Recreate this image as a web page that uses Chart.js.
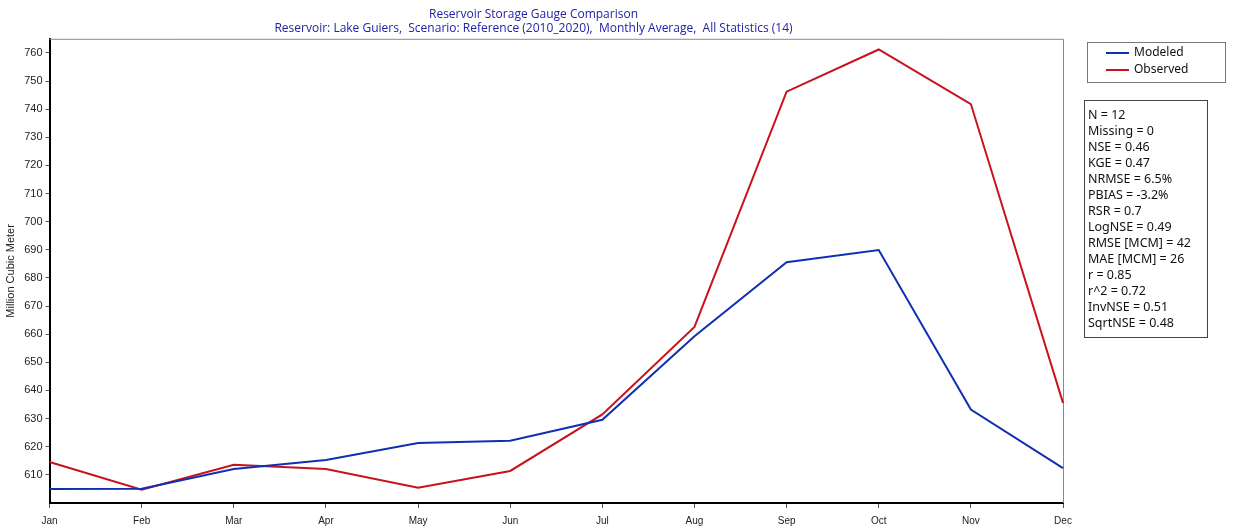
<!DOCTYPE html>
<html>
<head>
<meta charset="utf-8">
<script src="https://cdn.jsdelivr.net/npm/chart.js@4"></script>
<style>
  html, body { margin: 0; padding: 0; background: #fff; }
  #wrap { width: 1234px; height: 526px; position: relative; }
</style>
</head>
<body>
<div id="wrap"><canvas id="c" width="1234" height="526"></canvas></div>
<script>
const months = ["Jan","Feb","Mar","Apr","May","Jun","Jul","Aug","Sep","Oct","Nov","Dec"];
const modeled = [605.0, 605.1, 612.1, 615.3, 621.3, 622.1, 629.6, 659.3, 685.6, 689.9, 633.2, 612.4];
const observed = [614.6, 604.7, 613.6, 612.1, 605.4, 611.4, 631.5, 662.6, 746.2, 761.2, 741.8, 635.6];
const yTickValues = [610,620,630,640,650,660,670,680,690,700,710,720,730,740,750,760];
const statsLines = ["N = 12","Missing = 0","NSE = 0.46","KGE = 0.47","NRMSE = 6.5%","PBIAS = -3.2%","RSR = 0.7","LogNSE = 0.49","RMSE [MCM] = 42","MAE [MCM] = 26","r = 0.85","r^2 = 0.72","InvNSE = 0.51","SqrtNSE = 0.48"];
const titleText = "Reservoir Storage Gauge Comparison";
const subtitleText = "Reservoir: Lake Guiers,  Scenario: Reference (2010_2020),  Monthly Average,  All Statistics (14)";
const blue = "#1030b4";
const red = "#c8121c";

const boxPlugin = {
  id: 'boxes',
  beforeDatasetsDraw(chart) {
    const {ctx, chartArea: a} = chart;
    ctx.save();
    ctx.strokeStyle = '#8a8a8a';
    ctx.lineWidth = 1;
    ctx.beginPath();
    ctx.moveTo(a.left, a.top + 0.5);
    ctx.lineTo(a.right + 0.5, a.top + 0.5);
    ctx.lineTo(a.right + 0.5, a.bottom);
    ctx.stroke();
    ctx.restore();
  },
  afterDraw(chart) {
    const ctx = chart.ctx;
    ctx.save();
    ctx.strokeStyle = '#777';
    ctx.lineWidth = 1;
    ctx.strokeRect(1087.5, 42.5, 138, 40);
    ctx.font = '12px "Noto Sans", "Open Sans", sans-serif';
    ctx.textBaseline = 'middle';
    ctx.textAlign = 'left';
    const leg = [["Modeled", blue, 53], ["Observed", red, 70]];
    leg.forEach(([t, c, y]) => {
      ctx.strokeStyle = c; ctx.lineWidth = 2;
      ctx.beginPath(); ctx.moveTo(1106, y); ctx.lineTo(1129, y); ctx.stroke();
      ctx.fillStyle = '#111';
      ctx.fillText(t, 1134, y);
    });
    ctx.strokeStyle = '#444';
    ctx.lineWidth = 1;
    ctx.strokeRect(1084.5, 100.5, 123, 237);
    ctx.fillStyle = '#111';
    ctx.font = '12.5px "Noto Sans", "Open Sans", sans-serif';
    statsLines.forEach((t, i) => {
      ctx.fillText(t, 1088, 115 + i * 16);
    });
    ctx.restore();
  }
};

new Chart(document.getElementById('c'), {
  type: 'line',
  data: {
    labels: months,
    datasets: [
      { label: 'Modeled', data: modeled, borderColor: blue, backgroundColor: blue, borderWidth: 2, pointRadius: 0, tension: 0 },
      { label: 'Observed', data: observed, borderColor: red, backgroundColor: red, borderWidth: 2, pointRadius: 0, tension: 0 }
    ]
  },
  options: {
    responsive: false,
    animation: false,
    devicePixelRatio: 1,
    layout: { padding: { left: 4, right: 171, top: 0, bottom: -8 } },
    plugins: {
      legend: { display: false },
      tooltip: { enabled: false },
      title: {
        display: true, text: titleText, color: '#2222a8',
        font: { family: '"Open Sans", "Noto Sans", sans-serif', size: 12, weight: 'normal' },
        padding: { top: 7, bottom: 0 }
      },
      subtitle: {
        display: true, text: subtitleText, color: '#2222a8',
        font: { family: '"Open Sans", "Noto Sans", sans-serif', size: 12, weight: 'normal' },
        padding: { top: 0, bottom: 3 }
      }
    },
    scales: {
      x: {
        type: 'category',
        offset: false,
        grid: { display: true, drawOnChartArea: false, drawTicks: true, tickLength: 5, color: '#555' },
        border: { display: true, color: '#000', width: 2 },
        ticks: { color: '#222', font: { family: '"Liberation Sans", Arial, sans-serif', size: 10 }, maxRotation: 0, autoSkip: false, padding: 7 }
      },
      y: {
        min: 600, max: 765,
        afterBuildTicks(scale) { scale.ticks = yTickValues.map(v => ({ value: v })); },
        grid: { display: true, drawOnChartArea: false, drawTicks: true, tickLength: 4, color: '#555' },
        border: { display: true, color: '#000', width: 2 },
        ticks: { color: '#222', font: { family: '"Liberation Sans", Arial, sans-serif', size: 11 }, padding: 3 },
        title: { display: true, text: 'Million Cubic Meter', color: '#222', font: { family: '"Liberation Sans", Arial, sans-serif', size: 11 }, padding: { top: 0, bottom: 4 } }
      }
    }
  },
  plugins: [boxPlugin]
});
</script>
</body>
</html>
